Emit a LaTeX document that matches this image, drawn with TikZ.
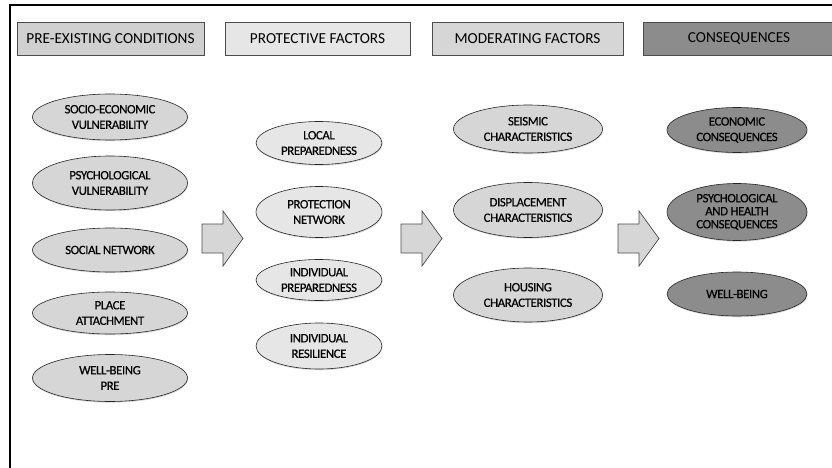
\documentclass[tikz,border=0pt]{standalone}
\usepackage{fontspec}
\setmainfont{Carlito}
\newfontfamily\ovalfont[LetterSpace=-3,FakeBold=0.4]{Carlito}
\usetikzlibrary{shapes.geometric,shadows}
\definecolor{lightgr}{HTML}{E6E6E6}
\definecolor{midgr}{HTML}{D6D6D6}
\definecolor{pregr}{HTML}{D0D0D0}
\definecolor{darkgr}{HTML}{8C8C8C}
% block arrow between two columns, #1 = left end
\newcommand{\fwdarrow}[1]{\draw[black!70, fill=midgr, line width=0.7pt] (#1,224) -- ++(21,0) -- ++(0,-13) -- ++(20,27.5) -- ++(-20,27.5) -- ++(0,-13) -- ++(-21,0) -- cycle;}

\begin{document}
\begin{tikzpicture}[x=1pt,y=-1pt,
  head/.style={draw=black!70, line width=0.8pt, minimum height=33pt, inner sep=0pt, text=black, font=\fontsize{15.3}{18}\selectfont},
  oval/.style={ellipse, draw=black!85, line width=0.6pt, inner sep=0pt, align=center, text=black, font=\ovalfont\fontsize{12.8}{15.5}\selectfont, drop shadow={opacity=0.3, shadow xshift=0.4pt, shadow yshift=-1.2pt}}]
\useasboundingbox (0,0) rectangle (832,468);
\draw[line width=2pt] (10,468) -- (10,5) -- (832,5);

% headings
\node[head, fill=pregr, minimum width=187pt] (hpre) at (110.5,38.5) {PRE-EXISTING CONDITIONS};
\node[head, fill=lightgr, minimum width=185pt] (hprot) at (317.5,38.5) {PROTECTIVE FACTORS};
\node[head, fill=midgr, minimum width=191pt] (hmod) at (527.5,38.5) {MODERATING FACTORS};
\node[head, fill=darkgr, minimum width=192pt] (hcons) at (739,38.5) {CONSEQUENCES};

% pre-existing conditions
\node[oval, fill=midgr, minimum width=155pt, minimum height=46pt] (socio) at (110,117) {SOCIO-ECONOMIC\\VULNERABILITY};
\node[oval, fill=midgr, minimum width=155pt, minimum height=54pt] (psych) at (110,183) {PSYCHOLOGICAL\\VULNERABILITY};
\node[oval, fill=midgr, minimum width=155pt, minimum height=44pt] (social) at (110,250) {SOCIAL NETWORK};
\node[oval, fill=midgr, minimum width=155pt, minimum height=42pt] (place) at (110,313) {PLACE\\ATTACHMENT};
\node[oval, fill=midgr, minimum width=155pt, minimum height=47pt] (wellpre) at (110,378) {WELL-BEING\\PRE};

% protective factors
\node[oval, fill=lightgr, minimum width=126pt, minimum height=43pt] (localprep) at (319,143) {LOCAL\\PREPAREDNESS};
\node[oval, fill=lightgr, minimum width=126pt, minimum height=51pt] (protnet) at (319,212) {PROTECTION\\NETWORK};
\node[oval, fill=lightgr, minimum width=126pt, minimum height=41pt] (indprep) at (319,280) {INDIVIDUAL\\PREPAREDNESS};
\node[oval, fill=lightgr, minimum width=126pt, minimum height=46pt] (indres) at (319,346) {INDIVIDUAL\\RESILIENCE};

% moderating factors
\node[oval, fill=midgr, minimum width=149pt, minimum height=48pt] (seismic) at (528,129) {SEISMIC\\CHARACTERISTICS};
\node[oval, fill=midgr, minimum width=149pt, minimum height=55pt] (displace) at (528,210) {DISPLACEMENT\\CHARACTERISTICS};
\node[oval, fill=midgr, minimum width=149pt, minimum height=54pt] (housing) at (528,295) {HOUSING\\CHARACTERISTICS};

% consequences
\node[oval, fill=darkgr, minimum width=140pt, minimum height=45pt] (econ) at (737,130) {ECONOMIC\\CONSEQUENCES};
\node[oval, fill=darkgr, minimum width=140pt, minimum height=57pt, font=\ovalfont\fontsize{12.8}{13}\selectfont] (psyhealth) at (737,212) {PSYCHOLOGICAL\\AND HEALTH\\CONSEQUENCES};
\node[oval, fill=darkgr, minimum width=140pt, minimum height=44pt] (wellbeing) at (737,294) {WELL-BEING};

\fwdarrow{202}
\fwdarrow{401}
\fwdarrow{618}
\end{tikzpicture}
\end{document}
